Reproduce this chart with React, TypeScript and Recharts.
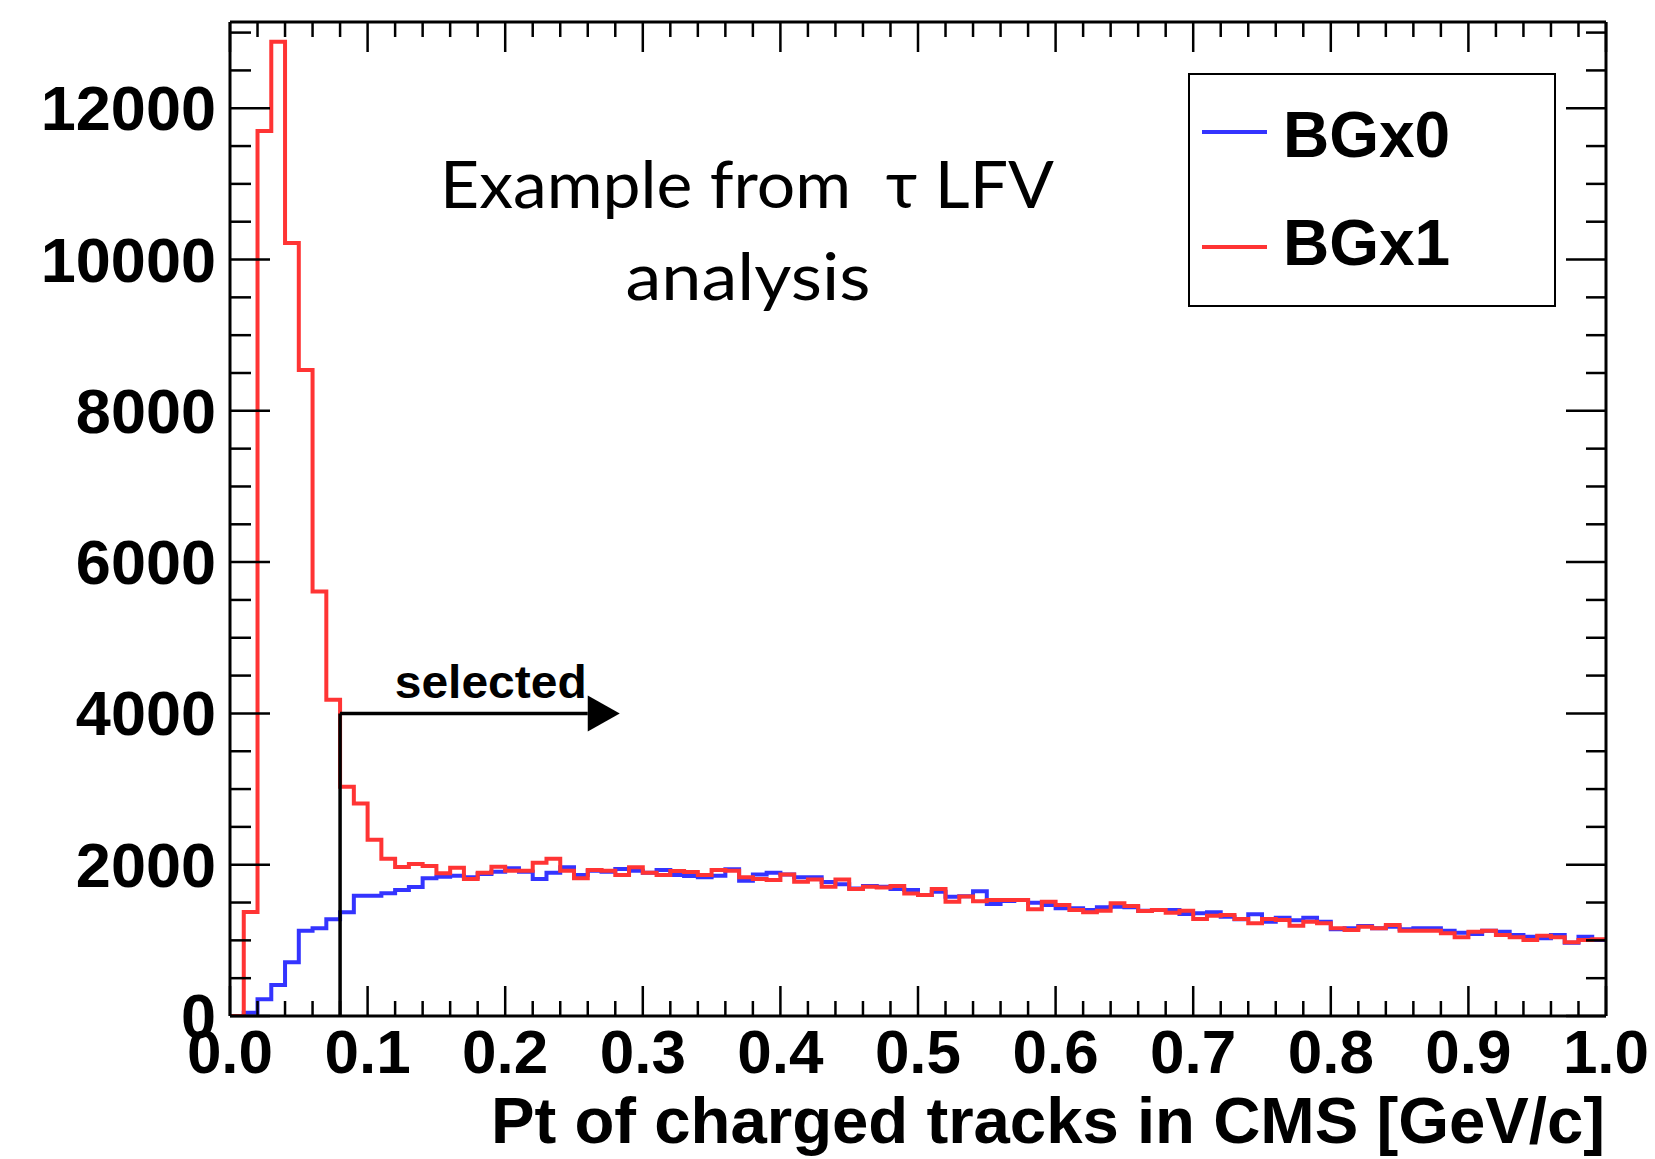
import React from 'react';
import { LineChart, Line, XAxis, YAxis, ReferenceLine, ReferenceDot, Legend } from 'recharts';

// ---- data (counts per 0.01 GeV/c bin, bins 0.00-0.01 ... 0.99-1.00) ----
const bgx0Counts = [
  0, 44, 220, 410, 710, 1128, 1159, 1278, 1370, 1590,
  1590, 1622, 1665, 1705, 1820, 1841, 1855, 1833, 1877, 1908,
  1952, 1908, 1811, 1894, 1965, 1864, 1921, 1908, 1943, 1921,
  1894, 1930, 1864, 1850, 1833, 1855, 1939, 1789, 1872, 1894,
  1872, 1833, 1833, 1771, 1741, 1687, 1718, 1709, 1679, 1665,
  1599, 1643, 1577, 1583, 1650, 1480, 1520, 1533, 1498, 1467,
  1423, 1423, 1401, 1437, 1445, 1437, 1392, 1401, 1401, 1348,
  1357, 1370, 1313, 1278, 1344, 1247, 1300, 1265, 1300, 1247,
  1146, 1159, 1190, 1159, 1181, 1146, 1159, 1159, 1128, 1101,
  1084, 1128, 1115, 1071, 1049, 1027, 1071, 969, 1049, 1004,
];
const bgx1Counts = [
  0, 1375, 11700, 12880, 10220, 8540, 5610, 4180, 3030, 2810,
  2330, 2080, 1970, 2010, 1983, 1886, 1960, 1811, 1894, 1974,
  1921, 1921, 2027, 2080, 1921, 1820, 1930, 1921, 1864, 1965,
  1894, 1864, 1916, 1905, 1864, 1930, 1921, 1833, 1811, 1798,
  1872, 1775, 1805, 1709, 1805, 1679, 1709, 1700, 1718, 1621,
  1599, 1679, 1511, 1580, 1518, 1533, 1533, 1533, 1410, 1511,
  1467, 1401, 1370, 1392, 1489, 1454, 1388, 1401, 1366, 1392,
  1282, 1326, 1335, 1282, 1225, 1282, 1269, 1192, 1247, 1225,
  1159, 1137, 1181, 1159, 1203, 1128, 1128, 1128, 1093, 1040,
  1115, 1128, 1071, 1040, 1004, 1062, 1040, 974, 1004, 1013,
];
const seriesNames = ['BGx0', 'BGx1'];
const binWidth = 0.01;

const xMajorTicks = [0, 0.1, 0.2, 0.3, 0.4, 0.5, 0.6, 0.7, 0.8, 0.9, 1.0];
const xTickLabels = ['0.0', '0.1', '0.2', '0.3', '0.4', '0.5', '0.6', '0.7', '0.8', '0.9', '1.0'];
const xMinorStep = 0.02;
const yMajorTicks = [0, 2000, 4000, 6000, 8000, 10000, 12000];
const yTickLabels = ['0', '2000', '4000', '6000', '8000', '10000', '12000'];
const yMinorStep = 500;
const yMax = 13140;

const xTitle = 'Pt of charged tracks in CMS [GeV/c]';
const noteLine1 = 'Example from  \u03c4 LFV';
const noteLine2 = 'analysis';
const cutLabel = 'selected';
const cutValue = 0.08;
const cutHeight = 4000;
const arrowEnd = 0.26;

// ---- derived tables ----
const rows = bgx0Counts.map((v, i) => ({
  x: +(i * binWidth).toFixed(2),
  BGx0: v,
  BGx1: bgx1Counts[i],
}));
rows.push({ x: 1.0, BGx0: bgx0Counts[bgx0Counts.length - 1], BGx1: bgx1Counts[bgx1Counts.length - 1] });

const xAllTicks = Array.from({ length: Math.round(1 / xMinorStep) + 1 }, (_, i) => +(i * xMinorStep).toFixed(2));
const yAllTicks = Array.from({ length: Math.floor(yMax / yMinorStep) + 1 }, (_, i) => i * yMinorStep);

const BLUE = '#3434ff';
const RED = '#ff3434';
const FONT = '"Liberation Sans", Arial, Helvetica, sans-serif';
const TICK_W = 2.5;

const majorIndex = (arr: number[], v: number) => arr.findIndex((t) => Math.abs(t - v) < 1e-9);

const BottomTick = (props: any) => {
  const { x, y, payload } = props;
  const idx = majorIndex(xMajorTicks, payload.value);
  const len = idx >= 0 ? 30 : 15;
  return (
    <g>
      <line x1={x} x2={x} y1={y} y2={y - len} stroke="#000" strokeWidth={TICK_W} />
      {idx >= 0 && (
        <text x={x} y={y + 57} textAnchor="middle" fontFamily={FONT} fontWeight="bold" fontSize={62} fill="#000">
          {xTickLabels[idx]}
        </text>
      )}
    </g>
  );
};

const TopTick = (props: any) => {
  const { x, y, payload } = props;
  const idx = majorIndex(xMajorTicks, payload.value);
  const len = idx >= 0 ? 30 : 15;
  return <line x1={x} x2={x} y1={y} y2={y + len} stroke="#000" strokeWidth={TICK_W} />;
};

const LeftTick = (props: any) => {
  const { x, y, payload } = props;
  const idx = majorIndex(yMajorTicks, payload.value);
  const len = idx >= 0 ? 40 : 21;
  return (
    <g>
      <line x1={x} x2={x + len} y1={y} y2={y} stroke="#000" strokeWidth={TICK_W} />
      {idx >= 0 && (
        <text x={x - 14} y={y + 22} textAnchor="end" fontFamily={FONT} fontWeight="bold" fontSize={63} fill="#000">
          {yTickLabels[idx]}
        </text>
      )}
    </g>
  );
};

const RightTick = (props: any) => {
  const { x, y, payload } = props;
  const idx = majorIndex(yMajorTicks, payload.value);
  const len = idx >= 0 ? 40 : 20;
  return <line x1={x} x2={x - len} y1={y} y2={y} stroke="#000" strokeWidth={TICK_W} />;
};

const XTitle = (props: any) => {
  const vb = props.viewBox || {};
  return (
    <text
      x={vb.x + vb.width - 1}
      y={vb.y + 127}
      textAnchor="end"
      fontFamily={FONT}
      fontWeight="bold"
      fontSize={65}
      fill="#000"
      textLength={1114}
      lengthAdjust="spacingAndGlyphs"
    >
      {xTitle}
    </text>
  );
};

const ArrowHead = (props: any) => {
  const { cx, cy } = props;
  return (
    <g>
      <path d={`M${cx},${cy - 18} L${cx + 32},${cy} L${cx},${cy + 18} Z`} fill="#000" />
      <text
        x={cx - 1}
        y={cy - 15}
        textAnchor="end"
        fontFamily={FONT}
        fontWeight="bold"
        fontSize={47}
        fill="#000"
        textLength={192}
        lengthAdjust="spacingAndGlyphs"
      >
        {cutLabel}
      </text>
    </g>
  );
};

const LegendBox = (props: any) => {
  const payload = props.payload || [];
  return (
    <svg width={368} height={234} style={{ display: 'block' }}>
      <rect x={1} y={1} width={366} height={232} fill="#fff" stroke="#000" strokeWidth={2} />
      {payload.map((p: any, i: number) => (
        <g key={p.value}>
          <line x1={14} x2={79} y1={59 + i * 115} y2={59 + i * 115} stroke={p.color} strokeWidth={4} />
          <text x={95} y={84 + i * 108} fontFamily={FONT} fontWeight="bold" fontSize={64} fill="#000">
            {p.value}
          </text>
        </g>
      ))}
    </svg>
  );
};

export default function App() {
  return (
    <div style={{ position: 'absolute', left: 0, top: 0, width: 1655, height: 1159, background: '#fff' }}>
      <LineChart width={1655} height={1159} data={rows} margin={{ top: 0, right: 0, bottom: 0, left: 0 }}>
        <XAxis
          dataKey="x"
          type="number"
          domain={[0, 1]}
          allowDataOverflow
          ticks={xAllTicks}
          interval={0}
          height={143}
          tickSize={0}
          tickMargin={0}
          tickLine={false}
          tick={<BottomTick />}
          axisLine={{ stroke: '#000', strokeWidth: 3 }}
          label={<XTitle />}
        />
        <XAxis
          xAxisId="top"
          orientation="top"
          dataKey="x"
          type="number"
          domain={[0, 1]}
          allowDataOverflow
          ticks={xAllTicks}
          interval={0}
          height={22}
          tickSize={0}
          tickMargin={0}
          tickLine={false}
          tick={<TopTick />}
          axisLine={{ stroke: '#000', strokeWidth: 3 }}
        />
        <YAxis
          type="number"
          domain={[0, yMax]}
          allowDataOverflow
          ticks={yAllTicks}
          interval={0}
          width={230}
          tickSize={0}
          tickMargin={0}
          tickLine={false}
          tick={<LeftTick />}
          axisLine={{ stroke: '#000', strokeWidth: 3 }}
        />
        <YAxis
          yAxisId="right"
          orientation="right"
          type="number"
          domain={[0, yMax]}
          allowDataOverflow
          ticks={yAllTicks}
          interval={0}
          width={49}
          tickSize={0}
          tickMargin={0}
          tickLine={false}
          tick={<RightTick />}
          axisLine={{ stroke: '#000', strokeWidth: 3 }}
        />
        <Line
          type="stepAfter"
          dataKey={seriesNames[0]}
          name={seriesNames[0]}
          stroke={BLUE}
          strokeWidth={4}
          dot={false}
          activeDot={false}
          isAnimationActive={false}
        />
        <Line
          type="stepAfter"
          dataKey={seriesNames[1]}
          name={seriesNames[1]}
          stroke={RED}
          strokeWidth={4}
          dot={false}
          activeDot={false}
          isAnimationActive={false}
        />
        <ReferenceLine
          segment={[{ x: cutValue, y: 0 }, { x: cutValue, y: cutHeight }]}
          stroke="#000"
          strokeWidth={3.5}
        />
        <ReferenceLine
          segment={[{ x: cutValue, y: cutHeight }, { x: arrowEnd, y: cutHeight }]}
          stroke="#000"
          strokeWidth={3.5}
        />
        <ReferenceDot x={arrowEnd} y={cutHeight} r={1} shape={<ArrowHead />} />
        <Legend
          layout="horizontal"
          verticalAlign="middle"
          align="center"
          content={<LegendBox />}
          wrapperStyle={{ position: 'absolute', left: 1188, top: 73, width: 368, height: 234 }}
        />
      </LineChart>
      <svg
        width={1655}
        height={1159}
        style={{ position: 'absolute', left: 0, top: 0, pointerEvents: 'none' }}
      >
        <text
          x={747}
          y={208}
          textAnchor="middle"
          fontFamily="Lato, 'Noto Sans', sans-serif"
          fontSize={66}
          fill="#000"
          textLength={614}
          lengthAdjust="spacingAndGlyphs"
          style={{ whiteSpace: 'pre' }}
        >
          {noteLine1}
        </text>
        <text
          x={748}
          y={300}
          textAnchor="middle"
          fontFamily="Lato, 'Noto Sans', sans-serif"
          fontSize={66}
          fill="#000"
          textLength={245}
          lengthAdjust="spacingAndGlyphs"
        >
          {noteLine2}
        </text>
      </svg>
    </div>
  );
}
